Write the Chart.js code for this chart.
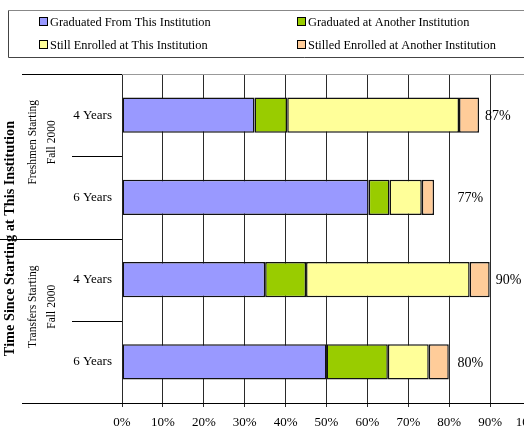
<!DOCTYPE html>
<html>
<head>
<meta charset="utf-8">
<script src="https://cdn.jsdelivr.net/npm/chart.js@4"></script>
<style>
html,body{margin:0;padding:0;background:#fff;overflow:hidden;}
#wrap{width:600px;height:427px;}
</style>
</head>
<body>
<div id="wrap"><canvas id="c" width="600" height="427"></canvas></div>
<script>
const categories = ['4 Years', '6 Years', '4 Years', '6 Years'];
const groups = [['Freshmen Starting', 'Fall 2000'], ['Transfers Starting', 'Fall 2000']];
const axisTitle = 'Time Since Starting at This Institution';
const seriesNames = ['Graduated From This Institution', 'Graduated at Another Institution', 'Still Enrolled at This Institution', 'Stilled Enrolled at Another Institution'];
const gradThis = [32.4, 60.3, 35, 50];
const gradOther = [8, 5.1, 10, 15];
const enrolledThis = [42, 7.9, 40, 10];
const enrolledOther = [4.9, 3, 4.9, 4.9];
const totalLabels = ['87%', '77%', '90%', '80%'];
const xTicks = [0, 10, 20, 30, 40, 50, 60, 70, 80, 90, 100];
const colors = ['#9999FF', '#99CC00', '#FFFF99', '#FFCC99'];

const SERIF = '"Liberation Serif", "Times New Roman", serif';

const decor = {
  id: 'decor',
  afterDraw(chart) {
    const ctx = chart.ctx;
    const ys = chart.scales.y, xs = chart.scales.x;
    const area = chart.chartArea;
    ctx.save();
    // legend box
    ctx.lineWidth = 1;
    ctx.strokeStyle = '#888';
    ctx.beginPath(); ctx.moveTo(8.5, 10.5); ctx.lineTo(600, 10.5); ctx.stroke();
    ctx.strokeStyle = '#444';
    ctx.beginPath(); ctx.moveTo(8.5, 10.5); ctx.lineTo(8.5, 57.5); ctx.lineTo(600, 57.5); ctx.stroke();
    const legendPos = [[39, 22], [297, 22], [39, 45], [297, 45]];
    ctx.font = '12.4px ' + SERIF;
    ctx.textBaseline = 'middle';
    ctx.textAlign = 'left';
    chart.data.datasets.forEach((ds, i) => {
      const [lx, ly] = legendPos[i];
      ctx.fillStyle = ds.backgroundColor;
      ctx.fillRect(lx, ly - 5, 9, 9);
      ctx.strokeStyle = '#000';
      ctx.strokeRect(lx + 0.5, ly - 4.5, 8, 8);
      ctx.fillStyle = '#000';
      ctx.fillText(ds.label, lx + 11, ly + 1);
    });
    // top border of plot
    ctx.strokeStyle = '#999';
    ctx.beginPath(); ctx.moveTo(area.left, area.top + 0.5); ctx.lineTo(area.right, area.top + 0.5); ctx.stroke();
    // category axis lines
    ctx.strokeStyle = '#000';
    const p = i => ys.getPixelForValue(i);
    const bnd = i => Math.round((p(i) + p(i + 1)) / 2) + 0.5;
    const line = (x1, y, x2) => { ctx.beginPath(); ctx.moveTo(x1, y); ctx.lineTo(x2, y); ctx.stroke(); };
    line(22, area.top + 0.5, area.left);
    line(22, Math.round(area.bottom) + 0.5, area.left);
    line(72, bnd(0), area.left);
    line(0, bnd(1), area.left);
    line(72, bnd(2), area.left);
    // group labels
    ctx.font = '11.5px ' + SERIF;
    ctx.textAlign = 'center';
    groups.forEach((g, gi) => {
      const cy = (p(gi * 2) + p(gi * 2 + 1)) / 2 - 14;
      [33, 52].forEach((gx, li) => {
        ctx.save();
        ctx.translate(gx, cy);
        ctx.rotate(-Math.PI / 2);
        ctx.fillText(g[li], 0, 0);
        ctx.restore();
      });
    });
    // axis title
    ctx.font = 'bold 14.3px ' + SERIF;
    ctx.save();
    ctx.translate(10, (area.top + area.bottom) / 2);
    ctx.rotate(-Math.PI / 2);
    ctx.fillText(axisTitle, 0, 0);
    ctx.restore();
    // total labels
    ctx.font = '14px ' + SERIF;
    ctx.textAlign = 'left';
    categories.forEach((c, i) => {
      let tot = 0;
      chart.data.datasets.forEach(ds => tot += ds.data[i]);
      const x = Math.max(xs.getPixelForValue(tot) + 6, xs.getPixelForValue(82));
      ctx.fillText(totalLabels[i], x, p(i) + 1);
    });
    ctx.restore();
  }
};

const datasets = [gradThis, gradOther, enrolledThis, enrolledOther].map((d, i) => ({
  label: seriesNames[i],
  data: d,
  backgroundColor: colors[i],
  borderColor: '#111',
  borderWidth: 1.5,
  borderSkipped: false,
  barPercentage: 0.43,
  categoryPercentage: 1
}));

new Chart(document.getElementById('c'), {
  type: 'bar',
  data: { labels: categories, datasets },
  options: {
    indexAxis: 'y',
    responsive: false,
    animation: false,
    devicePixelRatio: 1,
    layout: { padding: { top: 74, right: 69, left: 0, bottom: 0 } },
    plugins: { legend: { display: false }, tooltip: { enabled: false } },
    scales: {
      x: {
        stacked: true,
        min: 0, max: 100,
        afterBuildTicks(scale) { scale.ticks = xTicks.map(v => ({ value: v })); },
        afterFit(scale) { scale.height = 24; },
        grid: { color: '#2a2a2a', lineWidth: 1, tickLength: 4, drawTicks: true },
        border: { color: '#000', width: 1 },
        ticks: {
          padding: 8,
          color: '#000',
          font: { family: SERIF, size: 13 },
          callback: v => v + '%',
          maxRotation: 0,
          autoSkip: false
        }
      },
      y: {
        stacked: true,
        offset: true,
        afterFit(scale) { scale.width = 122; },
        grid: { display: false, drawTicks: false },
        border: { display: false },
        ticks: {
          padding: 10,
          color: '#000',
          font: { family: SERIF, size: 13 }
        }
      }
    }
  },
  plugins: [decor]
});
</script>
</body>
</html>
